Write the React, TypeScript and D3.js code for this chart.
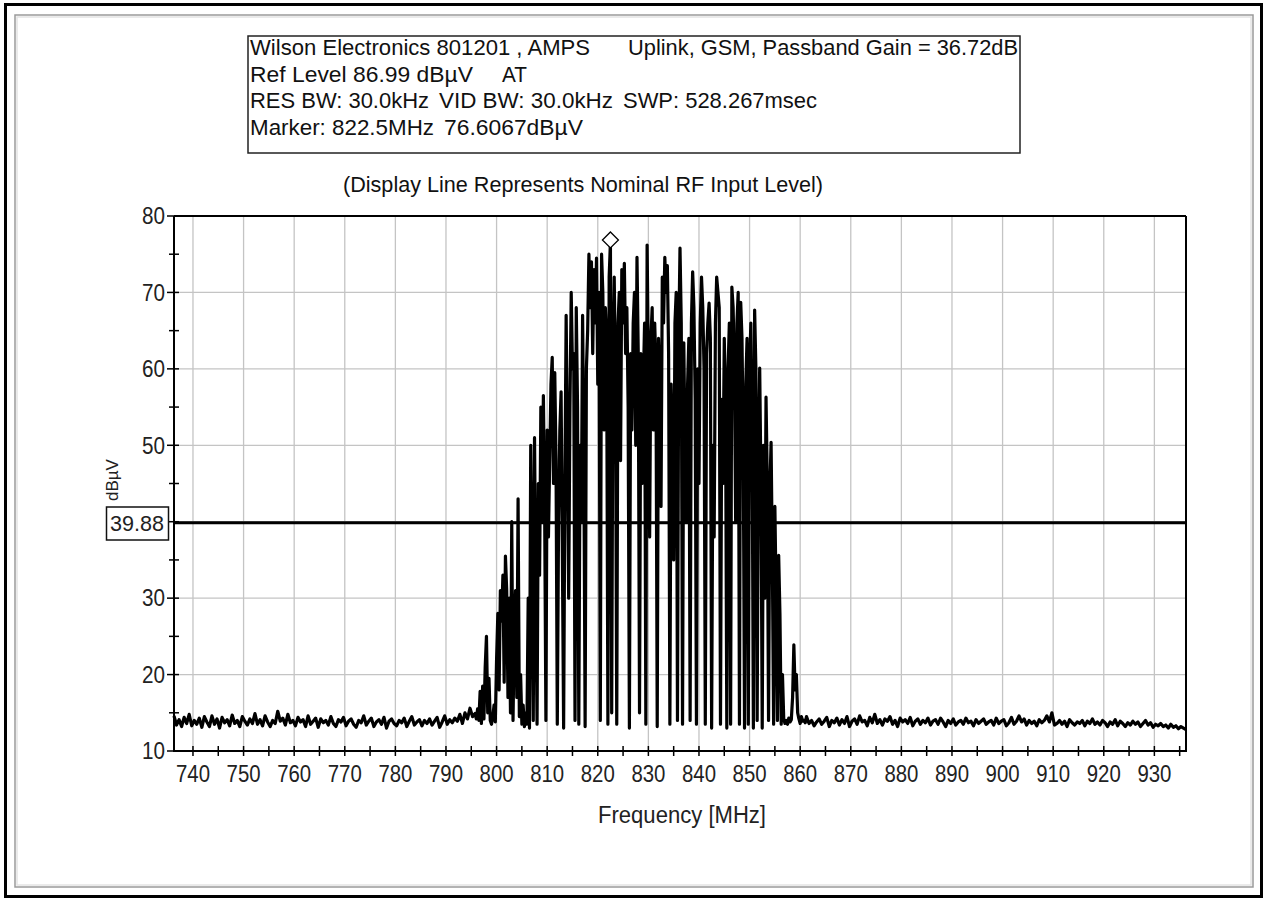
import React from "react";
import * as d3 from "d3";

// ---- data ----
const FREQ_MIN = 736.25;
const FREQ_MAX = 936.25;
const LEVEL_MIN = 10;
const LEVEL_MAX = 80;
const DISPLAY_LINE = 39.88;
const MARKER_FREQ = 822.5;
const MARKER_LEVEL = 76.6067;

const xTickValues = [740, 750, 760, 770, 780, 790, 800, 810, 820, 830, 840, 850, 860, 870, 880, 890, 900, 910, 920, 930];
const yTickValues = [10, 20, 30, 40, 50, 60, 70, 80];

const headerTexts = [
  "Wilson Electronics 801201 , AMPS",
  "Uplink, GSM, Passband Gain = 36.72dB",
  "Ref Level 86.99 dBµV",
  "AT",
  "RES BW: 30.0kHz",
  "VID BW: 30.0kHz",
  "SWP: 528.267msec",
  "Marker: 822.5MHz",
  "76.6067dBµV",
];

// noise floor below the band: starts 736.25 MHz, 0.5 MHz steps
const NOISE_LEFT_START = 736.25;
const noiseLeft = [
  14.6, 13.4, 14.1, 13.2, 14.4, 13.6, 14.8, 13.3, 14.0, 13.5,
  14.3, 13.1, 14.5, 13.8, 13.2, 14.6, 13.5, 14.2, 13.0, 14.4,
  13.7, 14.1, 13.3, 14.7, 13.6, 14.0, 13.2, 14.5, 13.9, 13.4,
  14.2, 13.6, 14.9, 13.5, 14.1, 13.3, 14.6, 13.8, 13.2, 14.0,
  13.6, 15.2, 13.9, 14.3, 13.4, 14.8, 13.7, 14.0, 13.3, 14.4,
  13.8, 14.1, 13.2, 14.6, 13.5, 13.9, 14.3, 13.1, 14.2, 13.7,
  14.0, 13.4, 14.5, 13.6, 13.2, 14.1, 13.8, 14.4, 13.3, 13.9,
  14.2, 13.5, 13.1, 14.0, 13.7, 14.6, 13.4, 13.9, 14.3, 13.2,
  13.8, 14.1, 13.5, 14.4, 13.0, 13.9, 14.2, 13.6, 13.3, 14.0,
  13.7, 14.3, 13.2, 13.9, 14.5, 13.4, 13.8, 14.1, 13.3, 14.0,
  13.6, 14.2, 13.4, 13.9, 14.4, 13.1, 13.8, 14.6, 13.5, 14.1,
  13.7, 14.3, 13.9, 14.8, 13.6, 15.0, 14.2, 15.6, 14.5, 14.9,
];

// occupied band: starts 796.0 MHz, 0.25 MHz steps
const ACTIVE_START = 796.0;
const activeBand = [
  14.2, 15.5, 14.0, 17.8, 13.6, 18.5, 14.2, 21.0, 25.0, 15.0,
  19.5, 14.0, 13.5, 14.5, 16.0, 13.8, 22.0, 28.0, 18.0, 31.0,
  27.0, 33.0, 19.0, 35.5, 31.0, 17.0, 30.0, 15.0, 40.0, 14.0,
  26.0, 31.0, 17.0, 43.0, 14.5, 20.0, 13.5, 16.0, 13.2, 15.0,
  13.5, 30.0, 13.0, 50.0, 34.0, 14.0, 51.0, 31.0, 13.5, 45.0,
  33.0, 55.0, 40.0, 56.5, 42.0, 14.0, 52.0, 38.0, 48.0, 58.0,
  61.5, 45.0, 59.5, 48.0, 13.5, 40.0, 52.0, 57.0, 36.0, 13.0,
  45.0, 67.0, 50.0, 30.0, 55.0, 70.0, 60.0, 62.0, 14.0, 68.0,
  55.0, 13.5, 50.0, 40.0, 67.0, 48.0, 13.2, 60.0, 65.0, 75.0,
  68.0, 74.0, 62.0, 73.0, 66.0, 74.5, 58.0, 70.0, 14.0, 75.0,
  70.0, 52.0, 68.0, 64.0, 13.5, 72.0, 76.6, 15.0, 62.0, 72.0,
  58.0, 13.5, 66.0, 70.0, 48.0, 73.0, 66.0, 73.8, 62.0, 68.0,
  55.0, 13.0, 62.0, 52.0, 66.0, 70.0, 50.0, 74.6, 62.0, 15.0,
  62.0, 45.0, 58.0, 66.0, 13.5, 76.2, 60.0, 38.0, 64.0, 68.0,
  52.0, 66.0, 60.0, 13.2, 64.0, 58.0, 42.0, 72.0, 66.0, 74.6,
  70.0, 73.5, 62.0, 13.5, 58.0, 50.0, 35.0, 66.0, 70.0, 14.0,
  64.0, 75.8, 66.0, 13.5, 63.4, 49.4, 40.0, 58.0, 64.0, 14.0,
  66.0, 72.7, 68.0, 56.0, 13.5, 60.0, 45.0, 66.0, 72.0, 68.0,
  60.0, 13.5, 62.0, 66.0, 68.6, 64.0, 13.0, 50.0, 38.0, 66.0,
  72.0, 70.0, 68.0, 13.5, 56.0, 45.0, 64.0, 56.0, 13.0, 60.0,
  66.0, 13.5, 70.7, 68.0, 60.0, 40.0, 66.0, 70.0, 13.5, 68.7,
  64.0, 50.0, 13.0, 58.0, 64.0, 13.5, 60.0, 66.0, 52.0, 13.0,
  67.7, 60.0, 14.0, 50.0, 60.1, 45.0, 13.0, 50.0, 30.0, 56.3,
  45.0, 14.0, 44.0, 50.4, 35.0, 13.5, 42.0, 30.0, 14.0, 35.6,
  28.0, 13.5, 20.0, 14.2, 13.6, 14.0, 13.5, 14.3, 13.8, 14.1,
  17.0, 23.9, 18.0, 20.0, 15.0, 14.2, 13.6, 14.5, 13.9, 14.0,
  13.7,
];

// noise floor above the band: starts 861.25 MHz, 0.5 MHz steps
const NOISE_RIGHT_START = 861.25;
const noiseRight = [
  14.5, 13.6, 14.0, 13.3, 13.8, 14.2, 13.5, 13.9, 14.4, 13.2,
  14.0, 13.7, 14.3, 13.4, 14.1, 13.6, 14.5, 13.2, 13.9, 14.2,
  13.5, 14.6, 13.8, 14.0, 13.3, 14.4, 13.7, 14.8, 13.6, 14.1,
  13.4, 14.2, 13.9, 14.5, 13.5, 14.0, 13.2, 14.3, 13.8, 14.1,
  13.6, 14.4, 13.3, 13.9, 14.2, 13.5, 14.0, 13.7, 14.3, 13.4,
  13.9, 14.1, 13.5, 14.3, 13.8, 13.2, 14.0, 13.6, 14.2, 13.4,
  13.8, 14.0, 13.5, 14.3, 13.7, 13.9, 13.3, 14.1, 13.6, 13.9,
  14.2, 13.5, 13.8, 14.0, 13.4, 14.3, 13.6, 13.9, 14.1, 13.3,
  13.7, 14.4, 13.5, 13.9, 14.6, 13.8, 14.2, 13.4, 14.0, 13.6,
  13.9, 13.3, 14.1, 13.7, 14.0, 14.6, 13.8, 15.0, 13.4, 13.6,
  14.0, 13.5, 13.9, 13.2, 14.1, 13.7, 13.4, 13.8, 13.6, 14.0,
  13.3, 13.9, 13.6, 14.2, 13.5, 13.8, 13.4, 14.0, 13.7, 13.2,
  13.8, 13.5, 14.1, 13.3, 13.9, 13.6, 13.2, 13.7, 13.4, 13.9,
  13.5, 13.8, 13.2, 13.6, 14.0, 13.4, 13.7, 13.1, 13.5, 13.3,
  13.6, 13.2, 13.4, 13.0, 13.5, 13.1, 13.3, 12.9, 13.2, 13.0,
  12.8,
];

type Pt = { f: number; v: number };

function buildTrace(): Pt[] {
  const pts: Pt[] = [];
  noiseLeft.forEach((v, i) => pts.push({ f: NOISE_LEFT_START + i * 0.5, v }));
  activeBand.forEach((v, i) => pts.push({ f: ACTIVE_START + i * 0.25, v }));
  noiseRight.forEach((v, i) => pts.push({ f: NOISE_RIGHT_START + i * 0.5, v }));
  return pts;
}

const W = 1267;
const H = 899;
const PL = 174;
const PR = 1186;
const PT = 216;
const PB = 751;
const FONT = "'Liberation Sans', Arial, sans-serif";

// header layout: [x, baseline, width] per text segment
const headerLayout: [number, number, number][] = [
  [250, 55, 340],
  [628, 55, 390],
  [250, 82, 223],
  [502, 82, 25],
  [250, 108, 179],
  [439, 108, 174],
  [623, 108, 194],
  [250, 135, 184],
  [444, 135, 139],
];

export default function App() {
  const x = d3.scaleLinear().domain([FREQ_MIN, FREQ_MAX]).range([PL, PR]);
  const y = d3.scaleLinear().domain([LEVEL_MIN, LEVEL_MAX]).range([PB, PT]);
  const trace = buildTrace();
  const line = d3
    .line<Pt>()
    .x((d) => x(d.f))
    .y((d) => y(d.v));

  const minorX = d3.range(740, 936, 5);
  const minorY = d3.range(15, 80, 10);
  const gridX = xTickValues;
  const gridY = yTickValues.filter((v) => v > LEVEL_MIN && v < LEVEL_MAX);

  const mx = x(MARKER_FREQ);
  const my = y(MARKER_LEVEL) - 2;
  const yDisp = y(DISPLAY_LINE);

  return (
    <svg
      width={W}
      height={H}
      style={{ position: "absolute", left: 0, top: 0, background: "#fff" }}
      fontFamily={FONT}
    >
      <rect x={0} y={0} width={W} height={H} fill="#fff" />
      {/* outer frame */}
      <rect x={5.5} y={4.5} width={1256} height={892} fill="none" stroke="#000" strokeWidth={3} />
      <rect x={15} y={15} width={1238} height={872} fill="none" stroke="#9a9a9a" strokeWidth={1.5} />
      <rect x={17} y={17} width={1234} height={868} fill="none" stroke="#e4e4e4" strokeWidth={1.5} />

      {/* header box */}
      <rect x={248} y={36} width={772} height={117} fill="#fff" stroke="#222" strokeWidth={1.5} />
      <g fontSize={22} fill="#111">
        {headerTexts.map((t, i) => (
          <text
            key={"h" + i}
            x={headerLayout[i][0]}
            y={headerLayout[i][1]}
            textLength={headerLayout[i][2]}
            lengthAdjust="spacingAndGlyphs"
          >
            {t}
          </text>
        ))}
      </g>

      <text
        x={343}
        y={192}
        fontSize={22}
        textLength={480}
        lengthAdjust="spacingAndGlyphs"
        fill="#111"
      >
        (Display Line Represents Nominal RF Input Level)
      </text>

      {/* grid */}
      <g stroke="#c4c4c4" strokeWidth={1.3}>
        {gridX.map((v) => (
          <line key={"gx" + v} x1={x(v)} x2={x(v)} y1={PT} y2={PB} />
        ))}
        {gridY.map((v) => (
          <line key={"gy" + v} x1={PL} x2={PR} y1={y(v)} y2={y(v)} />
        ))}
      </g>

      {/* trace */}
      <path d={line(trace) || ""} fill="none" stroke="#000" strokeWidth={3.2} strokeLinejoin="round" />

      {/* display line */}
      <line x1={PL} x2={PR} y1={yDisp} y2={yDisp} stroke="#000" strokeWidth={3} />

      {/* marker */}
      <path
        d={`M${mx},${my - 8} L${mx + 8},${my} L${mx},${my + 8} L${mx - 8},${my} Z`}
        fill="#fff"
        stroke="#000"
        strokeWidth={1.3}
      />

      {/* frame of plot */}
      <line x1={PL} x2={PR} y1={PT} y2={PT} stroke="#000" strokeWidth={2} />
      <line x1={PR} x2={PR} y1={PT} y2={PB} stroke="#000" strokeWidth={2} />
      <line x1={PL} x2={PL} y1={PT} y2={PB + 1} stroke="#000" strokeWidth={2} />
      <line x1={PL - 1} x2={PR + 1} y1={PB} y2={PB} stroke="#000" strokeWidth={2} />

      {/* ticks */}
      <g stroke="#000" strokeWidth={1.5}>
        {minorX.map((v) => (
          <line key={"tx" + v} x1={x(v)} x2={x(v)} y1={PB - 5} y2={PB + 5} />
        ))}
        {yTickValues.map((v) => (
          <line key={"ty" + v} x1={PL - 7} x2={PL + (v === 80 || v === 10 ? 0 : 5)} y1={y(v)} y2={y(v)} />
        ))}
        {minorY.map((v) => (
          <line key={"tym" + v} x1={PL - 5} x2={PL + 5} y1={y(v)} y2={y(v)} />
        ))}
      </g>

      {/* tick labels */}
      <g fontSize={23} fill="#222">
        {xTickValues.map((v) => (
          <text
            key={"lx" + v}
            x={x(v) - 17}
            y={782}
            textLength={34}
            lengthAdjust="spacingAndGlyphs"
          >
            {v}
          </text>
        ))}
        {yTickValues
          .filter((v) => v !== 40)
          .map((v) => (
            <text
              key={"ly" + v}
              x={142}
              y={y(v)}
              dy="0.36em"
              textLength={23}
              lengthAdjust="spacingAndGlyphs"
            >
              {v}
            </text>
          ))}
      </g>

      {/* display line label */}
      <rect x={106.5} y={507} width={62} height={33} fill="#fff" stroke="#111" strokeWidth={1.5} />
      <text
        x={110}
        y={523.5}
        dy="0.36em"
        fontSize={22}
        textLength={54}
        lengthAdjust="spacingAndGlyphs"
        fill="#222"
      >
        {DISPLAY_LINE.toFixed(2)}
      </text>

      {/* axis titles */}
      <text
        transform="translate(118,480) rotate(-90)"
        fontSize={17}
        textAnchor="middle"
        fill="#222"
      >
        dBµV
      </text>
      <text
        x={598}
        y={823}
        fontSize={23}
        textLength={168}
        lengthAdjust="spacingAndGlyphs"
        fill="#222"
      >
        Frequency [MHz]
      </text>
    </svg>
  );
}
